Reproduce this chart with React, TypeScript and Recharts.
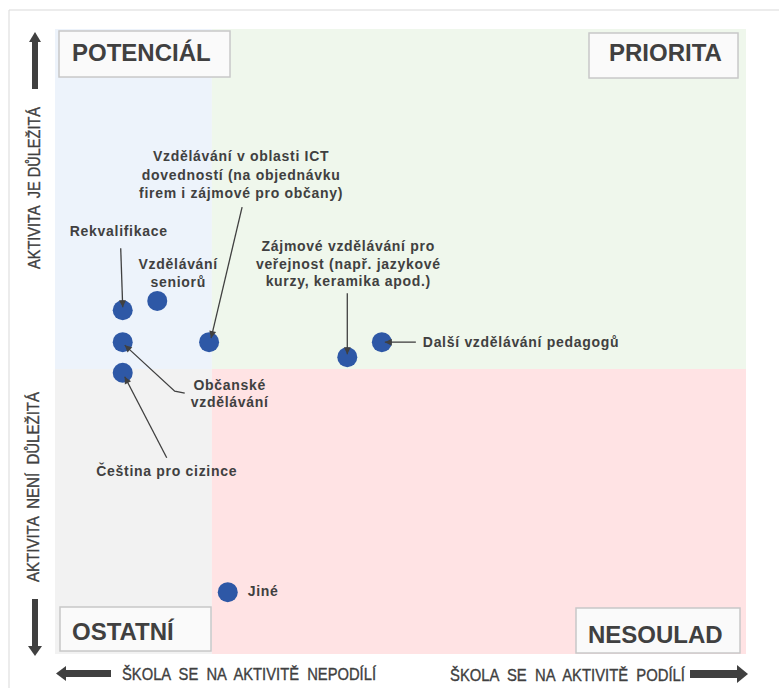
import React from "react";
import { ScatterChart, Scatter, XAxis, YAxis, ReferenceArea } from "recharts";

// activities and their position in the matrix (0–100 on both axes)
const names = [
  "Rekvalifikace",
  "Vzdělávání seniorů",
  "Vzdělávání v oblasti ICT dovedností",
  "Zájmové vzdělávání pro veřejnost",
  "Další vzdělávání pedagogů",
  "Občanské vzdělávání",
  "Čeština pro cizince",
  "Jiné",
];
const xValues = [9.8, 14.8, 22.3, 42.3, 47.3, 9.8, 9.8, 25.0];
const yValues = [55.0, 56.5, 49.9, 47.5, 49.9, 49.9, 45.0, 9.9];

// text shown next to each point
const labelLines = [
  ["Rekvalifikace"],
  ["Vzdělávání", "seniorů"],
  ["Vzdělávání v oblasti ICT", "dovedností (na objednávku", "firem i zájmové pro občany)"],
  ["Zájmové vzdělávání pro", "veřejnost (např. jazykové", "kurzy, keramika apod.)"],
  ["Další vzdělávání pedagogů"],
  ["Občanské", "vzdělávání"],
  ["Čeština pro cizince"],
  ["Jiné"],
];

const X_SPLIT = 22.7;
const Y_SPLIT = 45.6;

const quadrantNames = ["POTENCIÁL", "PRIORITA", "OSTATNÍ", "NESOULAD"];

const data = names.map((name, i) => ({ idx: i, name, x: xValues[i], y: yValues[i] }));

// label placement, relative to the dot (px)
const labelOffset: [number, number, "start" | "middle", number][] = [
  [-4, -74, "middle", 18],
  [21, -32, "middle", 18],
  [32, -181, "middle", 18.5],
  [1, -106, "middle", 17.5],
  [41, 5, "start", 18],
  [107, 48, "middle", 17],
  [44, 103, "middle", 18],
  [20, 4, "start", 18],
];
// leader lines, relative to the dot (px); last point gets the arrow head
const leaders: [number, number][][] = [
  [[-2, -62], [0, -3]],
  [],
  [[33, -135], [2, -4]],
  [[0, -64], [0, -3]],
  [[34, 0], [3, 0]],
  [[62, 51], [52, 49], [2, 3]],
  [[44, 85], [2, 4]],
  [],
];

const DOT = "#2E58A6";
const INK = "#404040";
const FONT = "'Liberation Sans', Arial, sans-serif";

const Dot = (props: any) => <circle cx={props.cx} cy={props.cy} r={10} fill={DOT} />;

const Annotation = (props: any) => {
  const { cx, cy, payload } = props;
  const i = payload.idx;
  const [dx, dy, anchor, lh] = labelOffset[i];
  const pts = leaders[i].map(([a, b]) => [cx + a, cy + b]);
  let head = null;
  if (pts.length > 1) {
    const [x1, y1] = pts[pts.length - 2];
    const [x2, y2] = pts[pts.length - 1];
    const len = Math.hypot(x2 - x1, y2 - y1);
    const ux = (x2 - x1) / len;
    const uy = (y2 - y1) / len;
    const bx = x2 - ux * 7;
    const by = y2 - uy * 7;
    head = (
      <polygon
        points={`${x2},${y2} ${bx - uy * 3.5},${by + ux * 3.5} ${bx + uy * 3.5},${by - ux * 3.5}`}
        fill={INK}
      />
    );
  }
  return (
    <g>
      {pts.length > 1 && (
        <polyline points={pts.map((p) => p.join(",")).join(" ")} fill="none" stroke={INK} strokeWidth={1.3} />
      )}
      {head}
      <text
        x={cx + dx}
        y={cy + dy}
        textAnchor={anchor}
        fontFamily={FONT}
        fontSize={14}
        fontWeight="bold"
        letterSpacing={0.7}
        fill={INK}
      >
        {labelLines[i].map((line, k) => (
          <tspan key={k} x={cx + dx} dy={k === 0 ? 0 : lh}>
            {line}
          </tspan>
        ))}
      </text>
    </g>
  );
};

const QuadBox = ({ x, y, w, h, text, tx, ty }: any) => (
  <g>
    <rect x={x} y={y} width={w} height={h} fill="#FAFAFA" stroke="#C8C8C8" strokeWidth={1.5} />
    <text x={tx} y={ty} fontFamily={FONT} fontSize={24} fontWeight="bold" fill={INK}>
      {text}
    </text>
  </g>
);

const Caption = ({ x, y, rotate, anchor, len, children }: any) => (
  <text
    x={x}
    y={y}
    transform={rotate ? `rotate(-90 ${x} ${y})` : undefined}
    textAnchor={anchor}
    fontFamily={FONT}
    fontSize={17}
    fill={INK}
    stroke={INK}
    strokeWidth={0.35}
    textLength={len}
    lengthAdjust="spacingAndGlyphs"
    style={{ whiteSpace: "pre" }}
  >
    {children}
  </text>
);

export default function App() {
  return (
    <div style={{ position: "absolute", left: 0, top: 0, width: 779, height: 688, overflow: "hidden", background: "#fff" }}>
      <ScatterChart width={779} height={688} margin={{ top: 29, right: 33, bottom: 34, left: 55 }}>
        <XAxis type="number" dataKey="x" domain={[0, 100]} hide />
        <YAxis type="number" dataKey="y" domain={[0, 100]} hide />
        <ReferenceArea x1={0} x2={X_SPLIT} y1={Y_SPLIT} y2={100} fill="#EDF3FB" fillOpacity={1} stroke="none" />
        <ReferenceArea x1={X_SPLIT} x2={100} y1={Y_SPLIT} y2={100} fill="#EFF7EC" fillOpacity={1} stroke="none" />
        <ReferenceArea x1={0} x2={X_SPLIT} y1={0} y2={Y_SPLIT} fill="#F2F2F2" fillOpacity={1} stroke="none" />
        <ReferenceArea x1={X_SPLIT} x2={100} y1={0} y2={Y_SPLIT} fill="#FFE3E4" fillOpacity={1} stroke="none" />
        <Scatter data={data} shape={Dot} isAnimationActive={false} />
        <Scatter data={data} shape={Annotation} isAnimationActive={false} />
      </ScatterChart>

      <svg width={779} height={688} style={{ position: "absolute", left: 0, top: 0, pointerEvents: "none" }}>
        {/* frame */}
        <line x1={9} y1={10} x2={779} y2={10} stroke="#D9D9D9" />
        <line x1={9} y1={10} x2={9} y2={688} stroke="#D9D9D9" />

        <QuadBox x={59} y={31} w={171} h={46} text={quadrantNames[0]} tx={72} ty={61} />
        <QuadBox x={589} y={33} w={149} h={45} text={quadrantNames[1]} tx={609} ty={61} />
        <QuadBox x={60} y={607} w={151} h={44} text={quadrantNames[2]} tx={72} ty={640} />
        <QuadBox x={576} y={608} w={164} h={45} text={quadrantNames[3]} tx={588} ty={643} />

        {/* axis arrows */}
        <rect x={32} y={41} width={6} height={48} fill={INK} />
        <polygon points="35,32 29,42 41,42" fill={INK} />
        <rect x={32} y={599} width={6} height={48} fill={INK} />
        <polygon points="35,656 28,646 42,646" fill={INK} />
        <rect x={64} y={670} width={47} height={7} fill={INK} />
        <polygon points="56,673.5 66,666 66,681" fill={INK} />
        <rect x={690} y={670} width={48} height={8} fill={INK} />
        <polygon points="748,674 737,665 737,683" fill={INK} />

        {/* axis captions */}
        <Caption x={40} y={188} rotate anchor="middle" len={162}>{"AKTIVITA  JE DŮLEŽITÁ"}</Caption>
        <Caption x={39} y={487} rotate anchor="middle" len={190}>{"AKTIVITA  NENÍ  DŮLEŽITÁ"}</Caption>
        <Caption x={122} y={680} anchor="start" len={254}>{"ŠKOLA  SE  NA  AKTIVITĚ  NEPODÍLÍ"}</Caption>
        <Caption x={450} y={681} anchor="start" len={235}>{"ŠKOLA  SE  NA  AKTIVITĚ  PODÍLÍ"}</Caption>
      </svg>
    </div>
  );
}
